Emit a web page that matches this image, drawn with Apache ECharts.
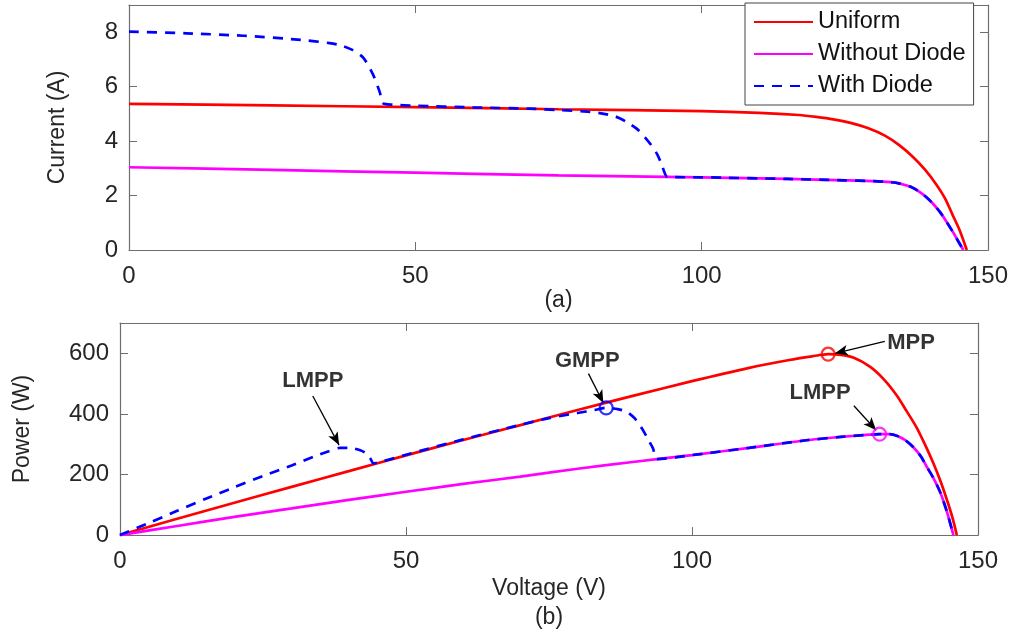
<!DOCTYPE html>
<html>
<head>
<meta charset="utf-8">
<script src="https://cdn.jsdelivr.net/npm/echarts@6/dist/echarts.min.js"></script>
<style>
  html, body { margin: 0; padding: 0; background: #fff; }
  #chart { width: 1011px; height: 633px; }
</style>
</head>
<body>
<div id="chart"></div>
<script>
// series names
const seriesNames = ["Uniform", "Without Diode", "With Diode"];

// (a) current vs voltage, [V, I]
const uniformIV = [[0,5.37],[25,5.31],[50,5.25],[75,5.17],[100,5.10],[110,5.04],[117,4.96],[120,4.89],[123,4.80],[126,4.67],[129,4.48],[132,4.20],[134.5,3.85],[137,3.40],[139,2.95],[141,2.40],[142.5,1.90],[143.8,1.30],[145,0.75],[146.3,0]];
const withoutDiodeIV = [[0,3.04],[25,2.94],[50,2.84],[75,2.74],[100,2.67],[115,2.61],[125,2.56],[130,2.53],[133,2.49],[134.6,2.44],[136.5,2.32],[138.1,2.13],[139.3,1.93],[140.4,1.70],[141.6,1.40],[142.7,1.06],[143.7,0.72],[144.7,0.36],[145.7,0]];
const withDiodeIV = [[0,8.02],[10,7.96],[20,7.87],[30,7.72],[35,7.60],[36.8,7.53],[39,7.35],[40.9,7.07],[42.6,6.45],[43.8,5.79],[44.3,5.40],[46,5.34],[50,5.30],[60,5.24],[70,5.19],[75.3,5.14],[80,5.08],[82.2,5.03],[85,4.90],[87,4.69],[88.7,4.45],[90.1,4.14],[91.2,3.85],[92.2,3.53],[93,3.15],[93.6,2.80],[94,2.68],[100,2.67],[115,2.61],[125,2.56],[130,2.53],[133,2.49],[134.6,2.44],[136.5,2.32],[138.1,2.13],[139.3,1.93],[140.4,1.70],[141.6,1.40],[142.7,1.06],[143.7,0.72],[144.7,0.36],[145.7,0]];

// (b) power vs voltage, [V, P]
const uniformPV = [[0,0],[10,54],[20,107],[30,159],[40,211],[50,263],[60,314],[70,363],[80,413],[90,461],[100,508],[110,552],[117,578],[121,590],[123.8,597],[126,595],[128.2,586],[131.1,556],[133.5,515],[135.8,461],[137.5,410],[139.3,354],[140.8,296],[142.2,237],[143.4,180],[144.5,120],[145.5,60],[146.3,0]];
const withoutDiodePV = [[0,0],[10,30],[20,60],[30,88],[40,116],[50,143],[60,169],[70,193],[80,219],[90,242],[100,264],[110,288],[120,313],[126,324],[130,330],[132.8,333],[134.5,333],[135.8,328],[137.3,313],[138.7,290],[140,260],[141,227],[142.3,185],[143.4,141],[144.6,75],[145.7,0]];
const withDiodePV = [[0,0],[5,40],[10,80],[15,120],[20,158],[25,195],[30,230],[33.8,258],[36.5,277],[38.5,288],[40.5,287],[42,280],[43.1,269],[43.8,252],[44.3,237],[46,244],[50,265],[60,316],[70,364],[75,386],[80,403],[83,413],[85,420],[87,416],[88.6,407],[90,385],[91.5,344],[92.5,310],[93.2,285],[93.9,251],[100,264],[110,288],[120,313],[126,324],[130,330],[132.8,333],[134.5,333],[135.8,328],[137.3,313],[138.7,290],[140,260],[141,227],[142.3,185],[143.4,141],[144.6,75],[145.7,0]];

// axis ranges
const voltageRange = [0, 150, 50];
const currentRange = [0, 9, 2];
const powerRange = [0, 700, 200];

// marked points on (b)
const mppPoint = [123.8, 597];
const gmppPoint = [85, 420];
const lmppPoint = [132.8, 333];

// annotation text anchors and arrows [from, to]
const annotationLabels = [
  { name: "LMPP", value: [33.7, 508] },
  { name: "GMPP", value: [81.7, 575] },
  { name: "MPP", value: [138.3, 635] },
  { name: "LMPP", value: [122.4, 468] },
];
const annotationArrows = [
  [[33.7, 459], [38.3, 297]],
  [[81.9, 533], [84.5, 436]],
  [[133.7, 639], [125.0, 600]],
  [[128.3, 427], [132.2, 346]],
];

const colors = ["#ff0000", "#ff00ff", "#0000ff"];
const textColor = "#262626";
const axisColor = "#6e6e6e";
const fontFamily = "'Liberation Sans', Arial, sans-serif";

const chart = echarts.init(document.getElementById("chart"));

function mainX(gridIndex, name, nameGap, lineHeight) {
  return {
    type: "value",
    gridIndex,
    min: voltageRange[0],
    max: voltageRange[1],
    interval: voltageRange[2],
    name,
    nameLocation: "middle",
    nameGap,
    nameTextStyle: { color: textColor, fontSize: 23, fontFamily, lineHeight },
    axisLine: { show: true, onZero: false, lineStyle: { color: axisColor, width: 1.2 } },
    axisTick: { show: true, inside: true, length: 8, lineStyle: { color: axisColor } },
    axisLabel: { color: textColor, fontSize: 24, fontFamily, margin: 14 },
    splitLine: { show: false },
  };
}

function mirrorX(gridIndex) {
  return {
    type: "value",
    gridIndex,
    position: "top",
    min: voltageRange[0],
    max: voltageRange[1],
    interval: voltageRange[2],
    axisLine: { show: true, onZero: false, lineStyle: { color: axisColor, width: 1.2 } },
    axisTick: { show: true, inside: true, length: 8, lineStyle: { color: axisColor } },
    axisLabel: { show: false },
    splitLine: { show: false },
  };
}

function mainY(gridIndex, range, name, nameGap) {
  return {
    type: "value",
    gridIndex,
    min: range[0],
    max: range[1],
    interval: range[2],
    name,
    nameLocation: "middle",
    nameGap,
    nameTextStyle: { color: textColor, fontSize: 23, fontFamily, lineHeight: 24 },
    axisLine: { show: true, onZero: false, lineStyle: { color: axisColor, width: 1.2 } },
    axisTick: { show: true, inside: true, length: 8, lineStyle: { color: axisColor } },
    axisLabel: { color: textColor, fontSize: 24, fontFamily, margin: 11, showMaxLabel: false },
    splitLine: { show: false },
  };
}

function mirrorY(gridIndex, range) {
  return {
    type: "value",
    gridIndex,
    position: "right",
    min: range[0],
    max: range[1],
    interval: range[2],
    axisLine: { show: true, onZero: false, lineStyle: { color: axisColor, width: 1.2 } },
    axisTick: { show: true, inside: true, length: 8, lineStyle: { color: axisColor } },
    axisLabel: { show: false },
    splitLine: { show: false },
  };
}

function curve(name, data, xi, yi, colorIdx, dashed) {
  return {
    name,
    type: "line",
    xAxisIndex: xi,
    yAxisIndex: yi,
    data,
    symbol: "none",
    smooth: 0.25,
    lineStyle: {
      color: colors[colorIdx],
      width: 2.7,
      type: dashed ? [10, 8] : "solid",
    },
    itemStyle: { color: colors[colorIdx] },
    z: 2 + colorIdx,
  };
}

function marker(point, color) {
  return {
    type: "scatter",
    xAxisIndex: 2,
    yAxisIndex: 2,
    data: [point],
    symbol: "circle",
    symbolSize: 13,
    itemStyle: { color: "rgba(255,255,255,0)", borderColor: color, borderWidth: 2.2 },
    z: 10,
  };
}

chart.setOption({
  animation: false,
  grid: [
    { left: 129, top: 5, width: 859, height: 245 },
    { left: 120, top: 323, width: 858, height: 218 },
  ],
  legend: {
    data: seriesNames,
    orient: "vertical",
    left: 745,
    top: 3,
    padding: [6, 8, 6, 8],
    itemGap: 6,
    itemWidth: 59,
    itemHeight: 14,
    itemStyle: { opacity: 0 },
    borderColor: "#444",
    borderWidth: 1,
    borderRadius: 0,
    backgroundColor: "#fff",
    textStyle: { color: "#111", fontSize: 23.5, fontFamily, lineHeight: 26 },
  },
  xAxis: [
    mainX(0, "(a)", 35, 24),
    mirrorX(0),
    mainX(1, "Voltage (V)\n(b)", 29, 29),
    mirrorX(1),
  ],
  yAxis: [
    mainY(0, currentRange, "Current (A)", 59),
    mirrorY(0, currentRange),
    mainY(1, powerRange, "Power (W)", 85),
    mirrorY(1, powerRange),
  ],
  series: [
    curve(seriesNames[0], uniformIV, 0, 0, 0, false),
    curve(seriesNames[1], withoutDiodeIV, 0, 0, 1, false),
    curve(seriesNames[2], withDiodeIV, 0, 0, 2, true),
    curve(seriesNames[0], uniformPV, 2, 2, 0, false),
    curve(seriesNames[1], withoutDiodePV, 2, 2, 1, false),
    curve(seriesNames[2], withDiodePV, 2, 2, 2, true),
    marker(mppPoint, colors[0]),
    marker(gmppPoint, colors[2]),
    marker(lmppPoint, colors[1]),
    {
      type: "scatter",
      xAxisIndex: 2,
      yAxisIndex: 2,
      data: annotationLabels,
      symbolSize: 0,
      label: {
        show: true,
        position: "inside",
        formatter: (p) => p.name,
        color: "#000",
        fontSize: 22,
        fontWeight: "bold",
        fontFamily,
      },
      markLine: {
        silent: true,
        symbol: ["none", "arrow"],
        symbolSize: [8, 13],
        label: { show: false },
        lineStyle: { color: "#000", width: 1.3, type: "solid" },
        data: annotationArrows.map((a) => [{ coord: a[0] }, { coord: a[1] }]),
      },
      z: 11,
    },
  ],
});
</script>
</body>
</html>
